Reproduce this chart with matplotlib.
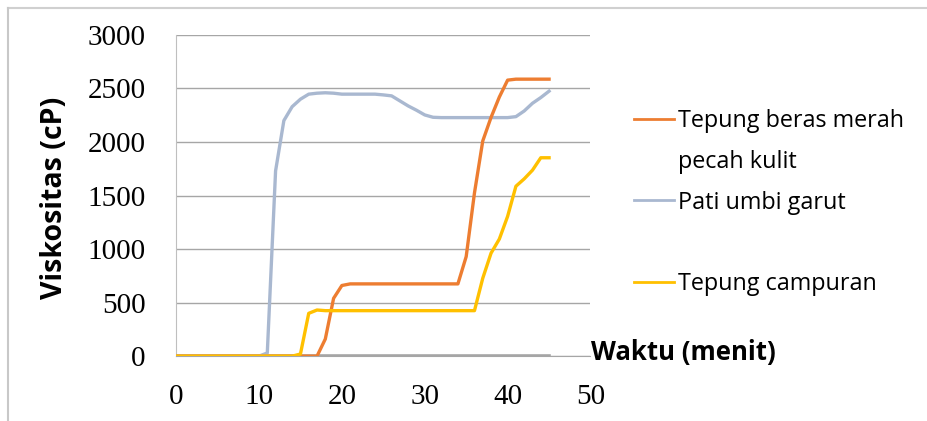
import matplotlib
matplotlib.use("Agg")
import matplotlib.pyplot as plt
from matplotlib.lines import Line2D

# time in minutes, one reading per minute
waktu = list(range(0, 46))

# viscosity (cP) per minute
beras_merah = [0] * 18 + [160, 540, 660] + [675] * 14 + [930, 1525, 2010, 2230, 2420,
                                                         2578] + [2587] * 5
pati_garut = [0] * 11 + [30, 1730, 2200, 2330, 2400, 2447, 2456, 2460, 2456, 2447,
                         2447, 2447, 2447, 2447, 2440, 2431, 2384, 2337, 2297, 2253,
                         2231, 2228, 2228, 2228, 2228, 2228, 2228, 2228, 2228, 2228,
                         2237, 2290, 2362, 2415, 2475]
campuran = [0] * 15 + [20, 400, 431] + [425] * 19 + [728, 962, 1094, 1306, 1587, 1656,
                                                     1737, 1853, 1853]
kosong = [0] * 46

colors = ["#ED7D31", "#A9B8D0", "#A5A5A5", "#FFC000"]

fig = plt.figure(figsize=(9.27, 4.21), dpi=100)
ax = fig.add_axes([0.190, 0.154, 0.447, 0.763])

ax.plot(waktu, kosong, color=colors[2], lw=2.6, zorder=2)
ax.plot(waktu, pati_garut, color=colors[1], lw=2.4, zorder=3)
ax.plot(waktu, beras_merah, color=colors[0], lw=2.4, zorder=4)
ax.plot(waktu, campuran, color=colors[3], lw=2.4, zorder=5)

ax.set_xlim(0, 50)
ax.set_ylim(0, 3000)
ax.set_xticks(range(0, 51, 10))
ax.set_yticks(range(0, 3001, 500))
ax.grid(axis="y", color="#A6A6A6", lw=1.0)
ax.set_axisbelow(True)
for side in ["top", "right"]:
    ax.spines[side].set_visible(False)
ax.spines["left"].set_color("#BFBFBF")
ax.spines["bottom"].set_color("#A6A6A6")
ax.tick_params(length=0, labelsize=21)
ax.tick_params(axis="y", pad=22)
ax.tick_params(axis="x", pad=20)
for t in ax.get_xticklabels() + ax.get_yticklabels():
    t.set_fontfamily("Liberation Serif")

fig.text(0.059, 0.53, "Viskositas (cP)", rotation=90, ha="center", va="center",
         fontsize=20.5, fontweight="bold", family="Open Sans")
fig.text(0.638, 0.163, "Waktu (menit)", ha="left", va="center",
         fontsize=18.5, fontweight="bold", family="Open Sans")

# the first label wraps onto a second row; the blank row belongs to the zero series
labels = ["Tepung beras merah", "pecah kulit", "Pati umbi garut", " ", "Tepung campuran"]
handles = [Line2D([0], [0], color=colors[0], lw=2),
           Line2D([0], [0], color="none", lw=2),
           Line2D([0], [0], color=colors[1], lw=2),
           Line2D([0], [0], color="none", lw=2),
           Line2D([0], [0], color=colors[3], lw=2)]
fig.legend(handles, labels, loc="upper left", bbox_to_anchor=(0.684, 0.741),
           frameon=False, prop={"family": "Open Sans", "size": 16.8},
           handlelength=1.72, handletextpad=0.15, labelspacing=0.72,
           borderaxespad=0, borderpad=0)

# light frame along the top and left of the chart area
fig.add_artist(Line2D([8 / 927, 1], [1 - 8 / 421] * 2, color="#D0D0D0", lw=1.5,
                      transform=fig.transFigure))
fig.add_artist(Line2D([8 / 927] * 2, [0, 1 - 8 / 421], color="#C8C8C8", lw=1.5,
                      transform=fig.transFigure))

fig.savefig("out.png", dpi=100)
